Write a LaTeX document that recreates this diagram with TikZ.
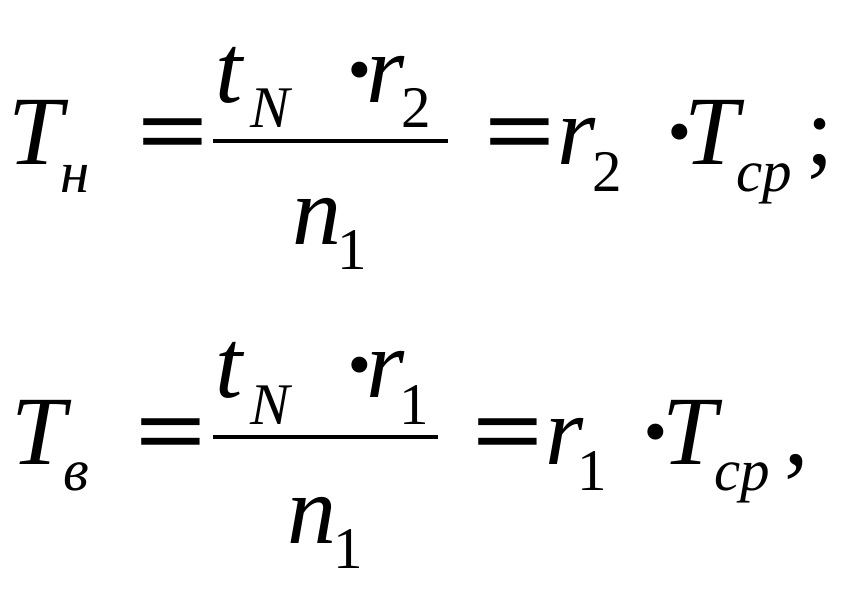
\documentclass[tikz,border=0pt]{standalone}
\usepackage{fontspec}
\setmainfont{Liberation Serif}
\usetikzlibrary{positioning}

\tikzset{
  big/.style={font=\fontsize{49}{50}\selectfont, inner sep=0pt, anchor=base west},
  sub/.style={font=\fontsize{29.5}{30}\selectfont, inner sep=0pt, anchor=base west},
  fracline/.style={line width=2pt}
}
\newcommand{\wideeq}{\scalebox{1.28}[1]{\bfseries =}}
\newcommand{\middot}{{\bfseries ·}}

\begin{document}
\begin{tikzpicture}[x=0.5pt, y=-0.5pt]

    \useasboundingbox (0,0) rectangle (845,592);

    % first line
    \node[big] (Tn) at (8,165) {\itshape T};
    \node[sub] (subn) at (60,193) {\itshape н};
    \node[big] (eqA) at (137,165) {\wideeq};
    \draw[fracline] (213,141) -- (448,141);
    \node[big] (tA) at (215,103) {\itshape t};
    \node[sub] (NA) at (250,128) {\itshape N};
    \node[big] (dotA) at (343,103) {\middot};
    \node[big] (rA) at (366,103) {\itshape r};
    \node[sub] (twoA) at (401,128) {2};
    \node[big] (nA) at (292,245) {\itshape n};
    \node[sub] (oneA) at (337,270) {1};
    \node[big] (eqB) at (484,165) {\wideeq};
    \node[big] (rB) at (557,165) {\itshape r};
    \node[sub] (twoB) at (592,192) {2};
    \node[big] (dotB) at (663,165) {\middot};
    \node[big] (TB) at (684,165) {\itshape T};
    \node[sub] (cpA) at (736,192) {\itshape ср};
    \node[big] (semi) at (806,165) {;};

    % second line
    \node[big] (Tv) at (11,465) {\itshape T};
    \node[sub] (subv) at (63,490) {\itshape в};
    \node[big] (eqC) at (135,465) {\wideeq};
    \draw[fracline] (213,437) -- (438,437);
    \node[big] (tC) at (215,398) {\itshape t};
    \node[sub] (NC) at (250,425) {\itshape N};
    \node[big] (dotC) at (343,398) {\middot};
    \node[big] (rC) at (366,398) {\itshape r};
    \node[sub] (oneC) at (399,425) {1};
    \node[big] (nC) at (287,543) {\itshape n};
    \node[sub] (oneD) at (333,568) {1};
    \node[big] (eqD) at (472,465) {\wideeq};
    \node[big] (rD) at (545,465) {\itshape r};
    \node[sub] (oneE) at (577,490) {1};
    \node[big] (dotD) at (639,465) {\middot};
    \node[big] (TD) at (662,465) {\itshape T};
    \node[sub] (cpB) at (714,490) {\itshape ср};
    \node[big] (comma) at (784,465) {,};

\end{tikzpicture}
\end{document}
